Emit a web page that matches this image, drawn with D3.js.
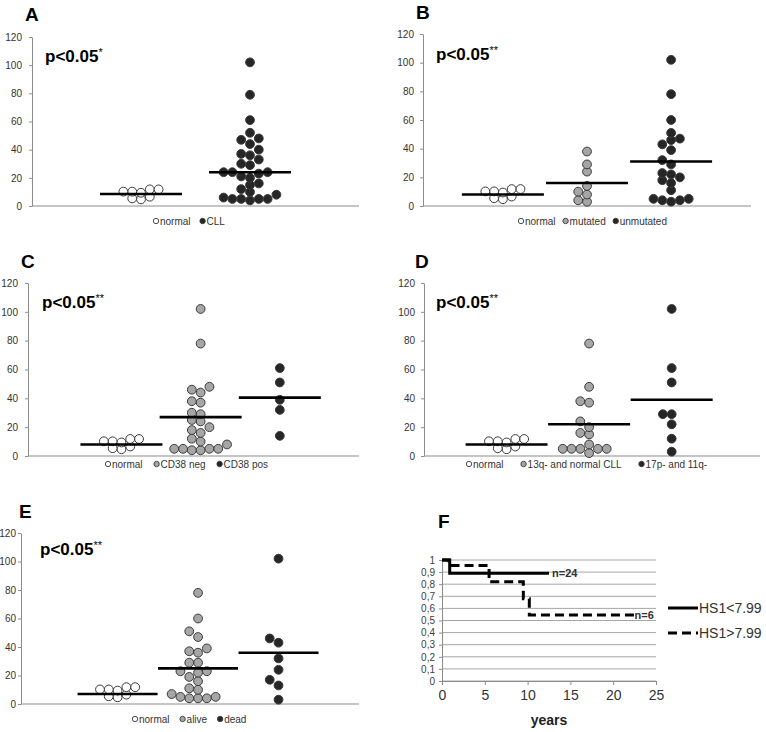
<!DOCTYPE html>
<html><head><meta charset="utf-8">
<script src="https://cdn.jsdelivr.net/npm/d3@7"></script>
<style>body{margin:0;background:#fff} svg{display:block;font-family:Arial,"Liberation Sans",sans-serif}</style>
</head><body><svg id="c" width="766" height="732"></svg>
<script>
// ---------- DATA ----------
const yTicks = [0, 20, 40, 60, 80, 100, 120];
const normalVals = [11.8, 11.8, 10.2, 10.2, 9.4, 6.6, 5.4, 4.7];

const aLabels = ["normal", "CLL"];
const aCLL = [102, 79, 61, 52, 48, 47, 44, 40, 37, 36, 33, 30, 29, 24, 24, 24, 23, 21, 20, 16, 15, 12, 10, 8, 6, 5, 5, 5, 5, 4];
const aMeans = [8.5, 24];

const bLabels = ["normal", "mutated", "unmutated"];
const bMutated = [38, 29, 24, 14, 10, 8, 4, 3];
const bUnmutated = [102, 78, 60, 51, 47, 46, 43, 39, 32, 29, 23, 22, 20, 18, 16, 11, 5, 5, 4, 4, 3];
const bMeans = [8, 16, 31];

const cLabels = ["normal", "CD38 neg", "CD38 pos"];
const cNeg = [102, 78, 48, 46, 44, 38, 37, 30, 29, 25, 24, 20, 18, 16, 12, 10, 8, 5, 5, 5, 5, 4, 4];
const cPos = [61, 51, 39, 32, 14];
const cMeans = [8, 27, 40.5];

const dLabels = ["normal", "13q- and normal CLL", "17p- and 11q-"];
const dMid = [78, 48, 38, 37, 24, 20, 16, 15, 8, 5, 5, 5, 5, 5, 2];
const dHigh = [102, 61, 51, 29, 29, 22, 12, 3];
const dMeans = [8, 22, 39];

const eLabels = ["normal", "alive", "dead"];
const eAlive = [78, 60, 51, 47, 39, 37, 36, 29, 29, 23, 23, 22, 19, 16, 11, 10, 7, 5, 5, 4, 4, 4];
const eDead = [102, 46, 43, 32, 24, 17, 13, 3];
const eMeans = [7, 25, 36];

const pTexts = ["*", "**", "**", "**", "**"];

// Kaplan-Meier (panel F)
const fXTicks = [0, 5, 10, 15, 20, 25];
const fYTicks = [0, 0.1, 0.2, 0.3, 0.4, 0.5, 0.6, 0.7, 0.8, 0.9, 1];
const lowTime = [0, 0.9, 12.5];
const lowSurv = [1, 0.89, 0.89];
const highTime = [0, 0.8, 5.5, 9.5, 10.2, 22.5];
const highSurv = [1, 0.955, 0.82, 0.68, 0.545, 0.545];
const fSeries = ["HS1<7.99", "HS1>7.99"];
const fN = ["n=24", "n=6"];

// ---------- STYLE / LAYOUT ----------
const FILL = {white: "#ffffff", gray: "#a6a6a6", black: "#262626"};
const R = 4.4;
const svg = d3.select("#c");

const panels = [
  {L: "A", lx: 25, ly: 21, px: 45, py: 62, ax: 32, ae: 359, yt: 37, yb: 206, dom: [0, 3], pad: 7, lgx: 153, lgy: 221, gap: 9,
   labels: aLabels, sets: [normalVals, aCLL], means: aMeans, fills: ["white", "black"], half: 41},
  {L: "B", lx: 416, ly: 19, px: 436, py: 60, ax: 423, ae: 751, yt: 34, yb: 206, dom: [0.05, 3.95], pad: 6, lgx: 518, lgy: 221, gap: 7,
   labels: bLabels, sets: [normalVals, bMutated, bUnmutated], means: bMeans, fills: ["white", "gray", "black"], half: 41},
  {L: "C", lx: 21, ly: 268, px: 42, py: 308, ax: 28, ae: 359, yt: 283, yb: 456, dom: [-0.18, 4], pad: 7, lgx: 105, lgy: 464, gap: 11,
   labels: cLabels, sets: [normalVals, cNeg, cPos], means: cMeans, fills: ["white", "gray", "black"], half: 41},
  {L: "D", lx: 415, ly: 268, px: 436, py: 308, ax: 424, ae: 760, yt: 283, yb: 456, dom: [0, 4.07], pad: 6, lgx: 466, lgy: 464, gap: 17,
   labels: dLabels, sets: [normalVals, dMid, dHigh], means: dMeans, fills: ["white", "gray", "black"], half: 41},
  {L: "E", lx: 19, ly: 518, px: 40, py: 555, ax: 21, ae: 359, yt: 533, yb: 704, dom: [-0.2, 4], pad: 2, lgx: 132, lgy: 719, gap: 10,
   labels: eLabels, sets: [normalVals, eAlive, eDead], means: eMeans, fills: ["white", "gray", "black"], half: 40}
];

// grid-based dot-strip layout: horizontal offsets in whole dot steps, slight overlap allowed
function swarm(vals, y, r) {
  const step = 2 * r, D = 1.5 * r;
  const pts = vals.map(v => ({v, y: y(v)})).sort((a, b) => b.y - a.y);
  const placed = [];
  for (const p of pts) {
    for (let i = 0; i < 40; i++) {
      const k = i === 0 ? 0 : (i % 2 ? -Math.ceil(i / 2) : Math.ceil(i / 2));
      const cx = k * step;
      if (placed.every(q => Math.hypot(q.x - cx, q.y - p.y) >= D - 1e-6)) { p.x = cx; break; }
    }
    placed.push(p);
  }
  return placed;
}

panels.forEach((P, pi) => {
  const g = svg.append("g");
  const y = d3.scaleLinear().domain([0, 120]).range([P.yb, P.yt]);
  const x = d3.scaleLinear().domain(P.dom).range([P.ax, P.ae]);

  const ya = g.append("g").attr("transform", `translate(${P.ax},0)`)
    .call(d3.axisLeft(y).tickValues(yTicks).tickSize(3).tickSizeOuter(0).tickPadding(P.pad));
  ya.select(".domain").attr("stroke", "#8c8c8c");
  ya.selectAll(".tick line").attr("stroke", "#8c8c8c");
  ya.selectAll(".tick text").attr("fill", "#333").style("font-size", "10px").style("font-family", "Arial, 'Liberation Sans', sans-serif");
  g.append("line").attr("x1", P.ax).attr("x2", P.ae).attr("y1", y(0)).attr("y2", y(0))
    .attr("stroke", "#8c8c8c").attr("stroke-width", 1);

  P.sets.forEach((vals, gi) => {
    const cx = x(gi + 1);
    const pts = swarm(vals, y, R);
    g.selectAll(null).data(pts).enter().append("circle")
      .attr("cx", d => cx + d.x).attr("cy", d => d.y).attr("r", R)
      .attr("fill", FILL[P.fills[gi]]).attr("stroke", "#3a3a3a").attr("stroke-width", 1);
  });
  P.means.forEach((m, gi) => {
    const cx = x(gi + 1);
    g.append("line").attr("x1", cx - P.half).attr("x2", cx + P.half).attr("y1", y(m)).attr("y2", y(m))
      .attr("stroke", "#000").attr("stroke-width", 2.6);
  });

  g.append("text").attr("x", P.lx).attr("y", P.ly).text(P.L)
    .attr("font-weight", "bold").attr("font-size", 19).attr("fill", "#000");
  const pt = g.append("text").attr("x", P.px).attr("y", P.py).attr("font-size", 17).attr("font-weight", "bold").attr("fill", "#000");
  pt.append("tspan").text("p<0.05");
  pt.append("tspan").text(pTexts[pi]).attr("font-size", 11).attr("font-weight", "normal").attr("dy", -6);

  let lx = P.lgx;
  P.labels.forEach((lab, gi) => {
    g.append("circle").attr("cx", lx + 3).attr("cy", P.lgy).attr("r", 2.7)
      .attr("fill", FILL[P.fills[gi]]).attr("stroke", "#3a3a3a").attr("stroke-width", 0.9);
    const t = g.append("text").attr("x", lx + 7).attr("y", P.lgy + 3.5).text(lab)
      .attr("font-size", 10).attr("fill", "#333");
    lx += 7 + t.node().getComputedTextLength() + P.gap;
  });
});

// ---------- PANEL F ----------
(function () {
  const g = svg.append("g");
  const x = d3.scaleLinear().domain([0, 25]).range([442, 656]);
  const y = d3.scaleLinear().domain([0, 1]).range([681, 560]);
  const loc = d3.formatLocale({decimal: ",", thousands: ".", grouping: [3], currency: ["", ""]});
  const fmt = loc.format(".1~f");

  g.selectAll(null).data(fYTicks).enter().append("line")
    .attr("x1", x(0)).attr("x2", x(25)).attr("y1", d => y(d)).attr("y2", d => y(d))
    .attr("stroke", "#a6a6a6").attr("stroke-width", 1);

  const ya = g.append("g").attr("transform", `translate(${x(0)},0)`)
    .call(d3.axisLeft(y).tickValues(fYTicks).tickFormat(fmt).tickSize(3).tickSizeOuter(0).tickPadding(4));
  ya.select(".domain").attr("stroke", "#8c8c8c");
  ya.selectAll(".tick line").attr("stroke", "#8c8c8c");
  ya.selectAll(".tick text").attr("fill", "#404040").style("font-size", "10px").style("font-family", "Arial, 'Liberation Sans', sans-serif");

  const xa = g.append("g").attr("transform", `translate(0,${y(0)})`)
    .call(d3.axisBottom(x).tickValues(fXTicks).tickSize(4).tickSizeOuter(0).tickPadding(5));
  xa.select(".domain").attr("stroke", "#8c8c8c");
  xa.selectAll(".tick line").attr("stroke", "#8c8c8c");
  xa.selectAll(".tick text").attr("fill", "#333").style("font-size", "14px").style("font-family", "Arial, 'Liberation Sans', sans-serif");

  g.append("text").attr("x", 549).attr("y", 725).attr("text-anchor", "middle")
    .attr("font-weight", "bold").attr("font-size", 14).attr("fill", "#222").text("years");
  g.append("text").attr("x", 438).attr("y", 528).attr("font-weight", "bold").attr("font-size", 19).text("F");

  const line = d3.line().x(d => x(d[0])).y(d => y(d[1])).curve(d3.curveStepAfter);
  const low = lowTime.map((t, i) => [t, lowSurv[i]]);
  const high = highTime.map((t, i) => [t, highSurv[i]]);
  g.append("path").attr("d", line(high)).attr("fill", "none").attr("stroke", "#000")
    .attr("stroke-width", 3).attr("stroke-dasharray", "9,5");
  g.append("path").attr("d", line(low)).attr("fill", "none").attr("stroke", "#000").attr("stroke-width", 3);

  g.append("text").attr("x", x(lowTime[lowTime.length - 1]) + 3).attr("y", y(lowSurv[lowSurv.length - 1]) + 4)
    .attr("font-size", 11).attr("font-weight", "bold").attr("fill", "#333").text(fN[0]);
  g.append("text").attr("x", x(highTime[highTime.length - 1])).attr("y", y(highSurv[highSurv.length - 1]) + 4)
    .attr("font-size", 11).attr("font-weight", "bold").attr("fill", "#333").text(fN[1]);

  const lg = [[608, null], [633, "9,5"]];
  fSeries.forEach((s, i) => {
    g.append("line").attr("x1", 668).attr("x2", 698).attr("y1", lg[i][0]).attr("y2", lg[i][0])
      .attr("stroke", "#000").attr("stroke-width", 3).attr("stroke-dasharray", lg[i][1]);
    g.append("text").attr("x", 699).attr("y", lg[i][0] + 5).attr("font-size", 14).attr("fill", "#333").text(s);
  });
})();
</script></body></html>
